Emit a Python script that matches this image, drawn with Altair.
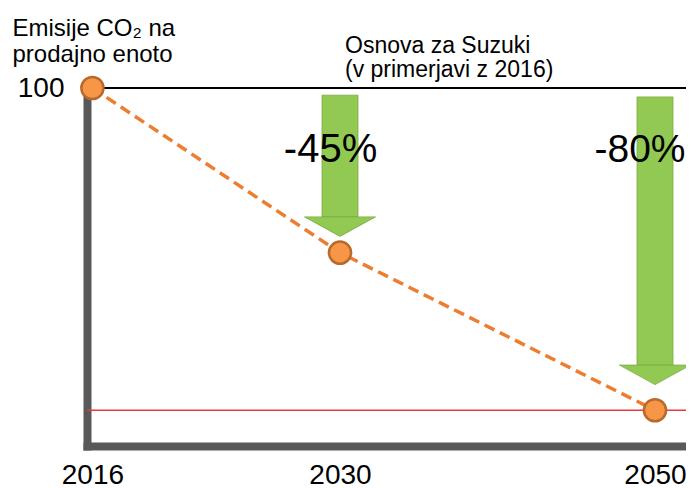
import altair as alt
import pandas as pd

# ---- data ----
years = [2016, 2030, 2050]
emissions = [100, 54, 10]            # CO2 index per unit sold (picture positions)

arrow_years = [2030, 2050]
arrow_start = [98.0, 97.5]            # top of green arrow shaft
arrow_head = [64.0, 22.6]             # where the arrow head begins
arrow_text = ["-45%", "-80%"]
arrow_text_y = [79.3, 79.3]

baseline_value = [100]
target_value = [10]

y_title = ["Emisije CO₂ na", "prodajno enoto"]
subtitle = "Osnova za Suzuki\n(v primerjavi z 2016)"

# x positions in the original are not proportional to years -> piecewise scale
x_domain = [2016, 2030, 2050, 2052]
x_range = [0, 253, 568, 599]

FONT = "Liberation Sans"
GREEN = "#92C953"
GREEN_EDGE = "#79AB42"
AXIS_GREY = "#595959"

pts = pd.DataFrame({"year": years, "value": emissions})
arr = pd.DataFrame({"year": arrow_years, "value": arrow_start, "value2": arrow_head,
                    "label": arrow_text, "label_y": arrow_text_y})
base_df = pd.DataFrame({"value": baseline_value})
target_df = pd.DataFrame({"value": target_value})
note_df = pd.DataFrame({"text": [subtitle]})

xs = alt.Scale(domain=x_domain, range=x_range, nice=False, zero=False)
ys = alt.Scale(domain=[0, 100], nice=False, zero=True)

xaxis = alt.Axis(values=years, format="d", title=None, grid=False, ticks=False,
                 labelFont=FONT, labelFontSize=28, labelColor="black",
                 labelPadding=15, labelFlush=False, labelOverlap=False,
                 domainColor=AXIS_GREY, domainWidth=8, domainCap="square")
yaxis = alt.Axis(values=[100], format="d", title=y_title, titleAngle=0,
                 titleAlign="left", titleBaseline="alphabetic", titleX=-75, titleY=-53,
                 titleFont=FONT, titleFontSize=24, titleFontWeight="normal",
                 titleColor="black", titleLineHeight=26,
                 grid=False, ticks=False, labelFont=FONT, labelFontSize=28,
                 labelColor="black", labelPadding=23, labelFlush=False,
                 labelBaseline="middle",
                 domainColor=AXIS_GREY, domainWidth=8, domainCap="square")

X = alt.X("year:Q", scale=xs, axis=xaxis)

top_rule = alt.Chart(base_df).mark_rule(color="black", strokeWidth=2).encode(
    y=alt.Y("value:Q", scale=ys, axis=yaxis))
red_rule = alt.Chart(target_df).mark_rule(color="#E8383D", strokeWidth=1.5).encode(
    y=alt.Y("value:Q", scale=ys, axis=yaxis))

shaft = alt.Chart(arr).mark_bar(size=36, color=GREEN, stroke=GREEN_EDGE,
                                strokeWidth=0.8).encode(
    x=X, y=alt.Y("value:Q", scale=ys, axis=yaxis), y2="value2:Q")
head = alt.Chart(arr).mark_point(shape="M-1,0L1,0L0,0.55Z", size=5041, filled=True,
                                 fill=GREEN, stroke=GREEN_EDGE, strokeWidth=0.8,
                                 opacity=1).encode(
    x=X, y=alt.Y("value2:Q", scale=ys, axis=yaxis))

line = alt.Chart(pts).mark_line(color="#ED7D31", strokeWidth=3.5,
                                strokeDash=[11, 6]).encode(
    x=X, y=alt.Y("value:Q", scale=ys, axis=yaxis))
dots = alt.Chart(pts).mark_circle(size=490, color="#F79646", stroke="#B8692C",
                                  strokeWidth=2.5, opacity=1).encode(
    x=X, y=alt.Y("value:Q", scale=ys, axis=yaxis))


def pct_layer(label, size, dx):
    return alt.Chart(arr).transform_filter(
        alt.datum.label == label
    ).mark_text(font=FONT, fontSize=size, dx=dx, align="center",
                baseline="alphabetic", color="black").encode(
        x=X, y=alt.Y("label_y:Q", scale=ys, axis=yaxis), text="label:N")


pct1 = pct_layer(arrow_text[0], 40, -9.5)
pct2 = pct_layer(arrow_text[1], 39, -15)

note = alt.Chart(note_df).mark_text(font=FONT, fontSize=23, lineHeight=24,
                                    align="left", baseline="alphabetic",
                                    lineBreak="\n", color="black").encode(
    x=alt.value(258), y=alt.value(-35), text="text:N")

chart = alt.layer(top_rule, red_rule, shaft, head, line, dots, pct1, pct2, note).properties(
    width=599, height=358,
    autosize=alt.AutoSizeParams(type="none"),
    padding={"left": 79, "top": 80, "right": 0, "bottom": 42},
).configure_view(stroke=None)

chart.save("out.html", embed_options={"renderer": "svg", "actions": False})
